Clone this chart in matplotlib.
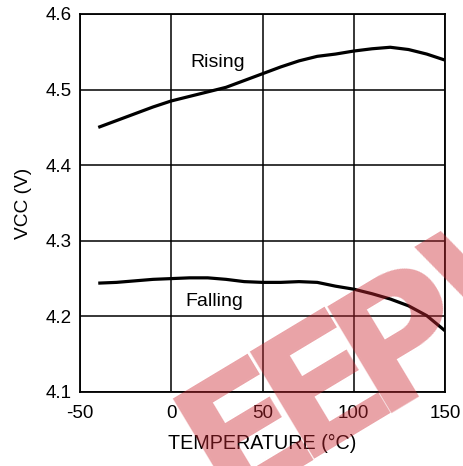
import matplotlib
matplotlib.use("Agg")
import matplotlib.pyplot as plt
import numpy as np
from matplotlib.textpath import TextPath
from matplotlib.font_manager import FontProperties

temp = [-40, -30, -20, -10, 0, 10, 20, 30, 40, 50, 60, 70, 80, 90, 100, 110, 120, 130, 140, 150]
rising = [4.450, 4.459, 4.468, 4.477, 4.485, 4.491, 4.497, 4.503, 4.512, 4.521,
          4.530, 4.538, 4.544, 4.547, 4.551, 4.554, 4.556, 4.553, 4.547, 4.539]
falling = [4.244, 4.245, 4.247, 4.249, 4.250, 4.251, 4.251, 4.249, 4.246, 4.245,
           4.245, 4.246, 4.245, 4.240, 4.236, 4.230, 4.223, 4.214, 4.201, 4.181]
xticks = [-50, 0, 50, 100, 150]
yticks = [4.1, 4.2, 4.3, 4.4, 4.5, 4.6]
watermark = "EEPW"

plt.rcParams['font.family'] = ['Liberation Sans', 'DejaVu Sans']

W, H, DPI = 464, 466, 100
fig = plt.figure(figsize=(W/DPI, H/DPI), dpi=DPI)
ax = fig.add_axes([80/W, 1-392/H, (445-80)/W, (392-14)/H])

ax.plot(temp, rising, color='black', lw=2.3, solid_capstyle='butt')
ax.plot(temp, falling, color='black', lw=2.3, solid_capstyle='butt')

ax.set_xlim(-50, 150)
ax.set_ylim(4.1, 4.6)
ax.set_xticks(xticks)
ax.set_yticks(yticks)
ax.set_xticklabels([str(t) for t in xticks])
ax.set_yticklabels([f"{t:.1f}" for t in yticks])
ax.grid(True, color='black', lw=1.1)
ax.tick_params(length=0, labelsize=13.5, pad=6)
ax.tick_params(axis='x', pad=9)
for s in ax.spines.values():
    s.set_linewidth(1.3)

ax.text(25.3, 4.5303, "Rising", fontsize=14, ha='center', va='baseline')
ax.text(23.4, 4.2138, "Falling", fontsize=14, ha='center', va='baseline')

ax.set_xlabel("TEMPERATURE (\u00b0C)", fontsize=14.2, labelpad=9)
ax.set_ylabel("VCC (V)", fontsize=13.8, labelpad=10)

# watermark: tightly tracked bold letters, rotated
wm_fp = FontProperties(family=['DejaVu Sans Condensed', 'DejaVu Sans'], weight='bold')
em_px = 172
theta_deg = 31
th = np.deg2rad(theta_deg)
u = np.array([np.cos(th), -np.sin(th)])
dn = np.array([np.sin(th), np.cos(th)])
origin = np.array([170.0, 390.0])
cap = TextPath((0, 0), 'E', size=em_px, prop=wm_fp).get_extents().y1
a = 0.0
for ch in watermark:
    ext = TextPath((0, 0), ch, size=em_px, prop=wm_fp).get_extents()
    anc = origin + (a - ext.x0) * u + cap * dn
    fig.text(anc[0]/W, 1 - anc[1]/H, ch, fontproperties=wm_fp, fontsize=em_px*72/DPI,
             color=(0.80, 0.16, 0.20), alpha=0.43, rotation=theta_deg, rotation_mode='anchor',
             ha='left', va='baseline', zorder=10)
    a += (ext.x1 - ext.x0) + 1

fig.savefig("out.png", dpi=DPI)
